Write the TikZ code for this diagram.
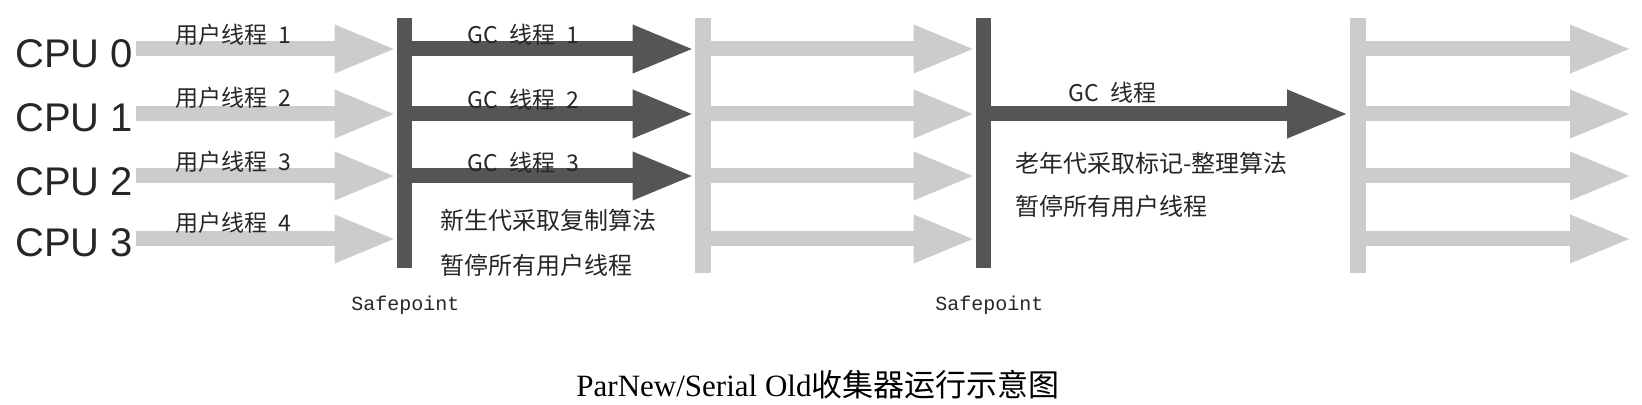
\documentclass[tikz,border=0pt]{standalone}
\usepackage{fontspec}
\setmainfont{Liberation Serif}
\newfontfamily\cjk{Noto Sans CJK SC}
\newfontfamily\cpufont{Liberation Sans}
\newfontfamily\ptfont{Liberation Mono}
\usetikzlibrary{arrows.meta, positioning}
\definecolor{bardark}{RGB}{85,85,85}
\definecolor{barlight}{RGB}{204,204,204}

\begin{document}
\begin{tikzpicture}[x=0.5pt, y=-0.5pt,
        cpu/.style={anchor=west, inner sep=0pt, text=black!85,
                    font=\cpufont\fontsize{20pt}{20pt}\selectfont},
        thr/.style={anchor=west, inner sep=0pt, text=black!85,
                    font=\cjk\fontsize{11.5pt}{12pt}\selectfont},
        note/.style={anchor=west, inner sep=0pt, text=black!85,
                     font=\cjk\fontsize{12pt}{12pt}\selectfont},
        spt/.style={anchor=west, inner sep=0pt, text=black!85,
                    font=\ptfont\fontsize{10pt}{10pt}\selectfont},
        darkbar/.style={rectangle, fill=bardark, inner sep=0pt, minimum width=7.5pt, minimum height=125pt},
        lightbar/.style={rectangle, fill=barlight, inner sep=0pt, minimum width=8pt, minimum height=127.5pt},
        userarrow/.style={-{Triangle[length=31pt, width=22pt]}, line width=7.5pt, barlight},
        gcarrow/.style={-{Triangle[length=31pt, width=22pt]}, line width=7.5pt, bardark}
    ]
        \useasboundingbox (0,0) rectangle (1642,405);

        % rows of the four cpus
        \coordinate (r0) at (0,49);
        \coordinate (r1) at (0,114);
        \coordinate (r2) at (0,176);
        \coordinate (r3) at (0,239);

        \node[cpu] (cpu0) at (15,54) {CPU 0};
        \node[cpu] (cpu1) at (15,118) {CPU 1};
        \node[cpu] (cpu2) at (15,182) {CPU 2};
        \node[cpu] (cpu3) at (15,243) {CPU 3};

        % safepoints and ends of gc
        \node[darkbar] (sp1) at (404.5,143) {};
        \node[lightbar] (end1) at (703,145.5) {};
        \node[darkbar] (sp2) at (983.5,143) {};
        \node[lightbar] (end2) at (1357.5,145.5) {};

        % user threads
        \draw[userarrow] ([xshift=1pt]cpu0.east |- r0) -- (sp1.west |- r0);
        \draw[userarrow] ([xshift=1pt]cpu1.east |- r1) -- (sp1.west |- r1);
        \draw[userarrow] ([xshift=1pt]cpu2.east |- r2) -- (sp1.west |- r2);
        \draw[userarrow] ([xshift=1pt]cpu3.east |- r3) -- (sp1.west |- r3);

        \node[thr] (u0) at (175,35) {用户线程\enspace{}1};
        \node[thr] (u1) at (175,98) {用户线程\enspace{}2};
        \node[thr] (u2) at (175,162) {用户线程\enspace{}3};
        \node[thr] (u3) at (175,223) {用户线程\enspace{}4};

        % young gen, parallel
        \draw[gcarrow] (sp1.east |- r0) -- (end1.west |- r0);
        \draw[gcarrow] (sp1.east |- r1) -- (end1.west |- r1);
        \draw[gcarrow] (sp1.east |- r2) -- (end1.west |- r2);

        \node[thr] (g0) at (467,35) {GC\enspace{}线程\enspace{}1};
        \node[thr] (g1) at (467,100) {GC\enspace{}线程\enspace{}2};
        \node[thr] (g2) at (467,163) {GC\enspace{}线程\enspace{}3};

        \node[note] (young) at (440,220) {新生代采取复制算法};
        \node[note] (pause1) at (440,265) {暂停所有用户线程};

        \draw[userarrow] (end1.east |- r0) -- (sp2.west |- r0);
        \draw[userarrow] (end1.east |- r1) -- (sp2.west |- r1);
        \draw[userarrow] (end1.east |- r2) -- (sp2.west |- r2);
        \draw[userarrow] (end1.east |- r3) -- (sp2.west |- r3);

        % old gen, serial
        \draw[gcarrow] (sp2.east |- r1) -- (end2.west |- r1);
        \node[thr] (g3) at (1068,93) {GC\enspace{}线程};
        \node[note] (old) at (1015,163) {老年代采取标记-整理算法};
        \node[note] (pause2) at (1015,206) {暂停所有用户线程};

        \coordinate (tip) at (1632,0);
        \draw[userarrow] (end2.east |- r0) -- (tip |- r0);
        \draw[userarrow] (end2.east |- r1) -- (tip |- r1);
        \draw[userarrow] (end2.east |- r2) -- (tip |- r2);
        \draw[userarrow] (end2.east |- r3) -- (tip |- r3);

        \node[spt] (s1) at (351,305) {Safepoint};
        \node[spt] (s2) at (935,305) {Safepoint};

        \node[inner sep=0pt, font=\fontsize{15.5pt}{16pt}\selectfont] (cap) at (818,385)
            {ParNew/Serial Old{\cjk 收集器运行示意图}};
    \end{tikzpicture}
\end{document}
